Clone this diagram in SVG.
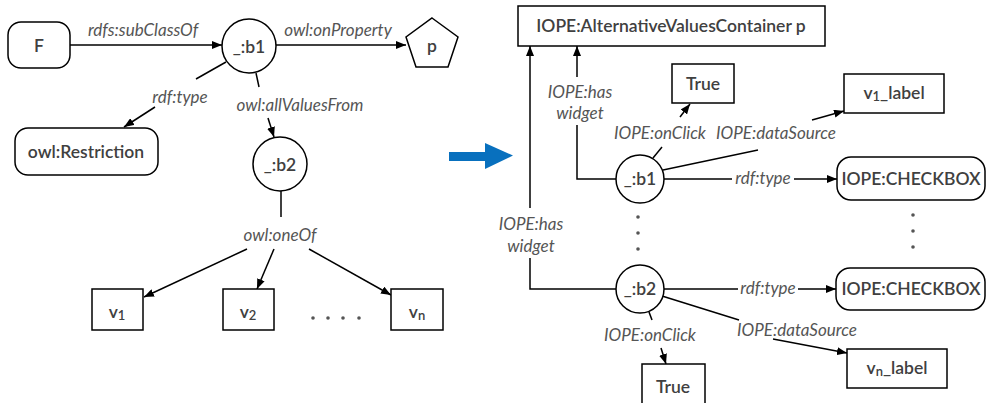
<svg xmlns="http://www.w3.org/2000/svg" width="986" height="403" viewBox="0 0 986 403">
<defs>
<marker id="ah" markerUnits="userSpaceOnUse" markerWidth="10" markerHeight="8" refX="10" refY="4" orient="auto">
<path d="M0,0 L10,4 L0,8 z" fill="#000"/>
</marker>
<style>
.n{fill:#fff;stroke:#000;stroke-width:1.5}
.t{font-family:Lato,"Liberation Sans",sans-serif;font-size:17.5px;font-weight:600;fill:#404040;text-anchor:middle}
.l{font-family:Lato,"Liberation Sans",sans-serif;font-size:17px;font-style:italic;fill:#555;text-anchor:middle}
.e{fill:none;stroke:#000;stroke-width:1.5}
.a{marker-end:url(#ah)}
.d{fill:#555}
</style>
</defs>
<rect width="986" height="403" fill="#fff"/>

<g id="connectors">
<path class="e a" d="M70,45 H222"/>
<path class="e a" d="M276,45 H406"/>
<path class="e" d="M226,62 L196,79"/>
<path class="e a" d="M155,107 L124,127"/>
<path class="e" d="M256,73 L259,87"/>
<path class="e a" d="M268,118 L274,137"/>
<path class="e" d="M281,191 V217"/>
<path class="e a" d="M247,249 L144,297"/>
<path class="e a" d="M274,249 L257,289"/>
<path class="e a" d="M309,249 L391,295"/>

<path class="e" d="M616,179 H577 V125"/>
<path class="e a" d="M577,77 V46"/>
<path class="e" d="M616,289 H530 V258"/>
<path class="e a" d="M530,208 V46"/>
<path class="e" d="M653,158 L662,147"/>
<path class="e a" d="M680,117 L690,104"/>
<path class="e" d="M663,170 L758,150"/>
<path class="e a" d="M812,120 L844,111"/>
<path class="e" d="M664,179 H732"/>
<path class="e a" d="M794,179 H837"/>
<path class="e" d="M664,289 H738"/>
<path class="e a" d="M798,289 H836"/>
<path class="e" d="M662,296 L739,320"/>
<path class="e a" d="M773,339 L847,353"/>
<path class="e" d="M649,312 L652,320"/>
<path class="e a" d="M661,348 L666,364"/>

<text class="l" x="143" y="36">rdfs:subClassOf</text>
<text class="l" x="338" y="36">owl:onProperty</text>
<text class="l" x="180" y="103">rdf:type</text>
<text class="l" x="300" y="111">owl:allValuesFrom</text>
<text class="l" x="280" y="241">owl:oneOf</text>
<text class="l" x="580" y="98">IOPE:has</text>
<text class="l" x="580" y="119">widget</text>
<text class="l" x="531" y="230">IOPE:has</text>
<text class="l" x="531" y="252">widget</text>
<text class="l" x="660" y="139">IOPE:onClick</text>
<text class="l" x="776" y="139">IOPE:dataSource</text>
<text class="l" x="763" y="184">rdf:type</text>
<text class="l" x="768" y="294">rdf:type</text>
<text class="l" x="650" y="341">IOPE:onClick</text>
<text class="l" x="797" y="336">IOPE:dataSource</text>
</g>

<g id="F"><rect class="n" x="8" y="22" width="62" height="46" rx="13"/><text class="t" x="39" y="52">F</text></g>
<g id="b1-left"><circle class="n" cx="249" cy="46" r="27"/><text class="t" x="249" y="53">_:b1</text></g>
<g id="p"><polygon class="n" points="432,18 458,37 448,67 416,67 406,37"/><text class="t" x="432" y="52">p</text></g>
<g id="owlRestriction"><rect class="n" x="15" y="128" width="143" height="47" rx="13"/><text class="t" x="86" y="158">owl:Restriction</text></g>
<g id="b2-left"><circle class="n" cx="280" cy="164" r="27"/><text class="t" x="280" y="171">_:b2</text></g>
<g id="v1"><rect class="n" x="92" y="289" width="51" height="41"/><text class="t" x="117" y="318">v<tspan font-size="13" dy="2">1</tspan></text></g>
<g id="v2"><rect class="n" x="223" y="289" width="51" height="41"/><text class="t" x="248" y="318">v<tspan font-size="13" dy="2">2</tspan></text></g>
<g id="vn"><rect class="n" x="391" y="289" width="52" height="41"/><text class="t" x="417" y="318">v<tspan font-size="13" dy="2">n</tspan></text></g>
<g id="dots-left"><circle class="d" cx="313" cy="318" r="1.8"/><circle class="d" cx="328" cy="318" r="1.8"/><circle class="d" cx="343" cy="318" r="1.8"/><circle class="d" cx="359" cy="318" r="1.8"/></g>

<g id="bigArrow"><polygon points="449,152 485,152 485,143 513,155.5 485,169 485,161 449,161" fill="#0870BE"/></g>

<g id="avc"><rect class="n" x="518" y="6" width="307" height="40"/><text class="t" x="671" y="32">IOPE:AlternativeValuesContainer p</text></g>
<g id="true1"><rect class="n" x="672" y="64" width="62" height="39"/><text class="t" x="703" y="90">True</text></g>
<g id="v1label"><rect class="n" x="844" y="74" width="100" height="39"/><text class="t" x="894" y="99">v<tspan font-size="13" dy="2">1</tspan><tspan dy="-2">_label</tspan></text></g>
<g id="b1-right"><circle class="n" cx="640" cy="179" r="24"/><text class="t" x="640" y="185">_:b1</text></g>
<g id="checkbox1"><rect class="n" x="837" y="157" width="148" height="43" rx="14"/><text class="t" x="911" y="185">IOPE:CHECKBOX</text></g>
<g id="b2-right"><circle class="n" cx="640" cy="289" r="24"/><text class="t" x="640" y="295">_:b2</text></g>
<g id="checkbox2"><rect class="n" x="836" y="268" width="149" height="42" rx="14"/><text class="t" x="911" y="295">IOPE:CHECKBOX</text></g>
<g id="vnlabel"><rect class="n" x="847" y="349" width="100" height="39"/><text class="t" x="897" y="374">v<tspan font-size="13" dy="2">n</tspan><tspan dy="-2">_label</tspan></text></g>
<g id="true2"><rect class="n" x="642" y="364" width="63" height="42"/><text class="t" x="673" y="393">True</text></g>
<g id="dots-right"><circle class="d" cx="638" cy="217" r="1.8"/><circle class="d" cx="638" cy="233" r="1.8"/><circle class="d" cx="638" cy="249" r="1.8"/><circle class="d" cx="913" cy="215" r="1.8"/><circle class="d" cx="913" cy="231" r="1.8"/><circle class="d" cx="913" cy="247" r="1.8"/></g>
</svg>
